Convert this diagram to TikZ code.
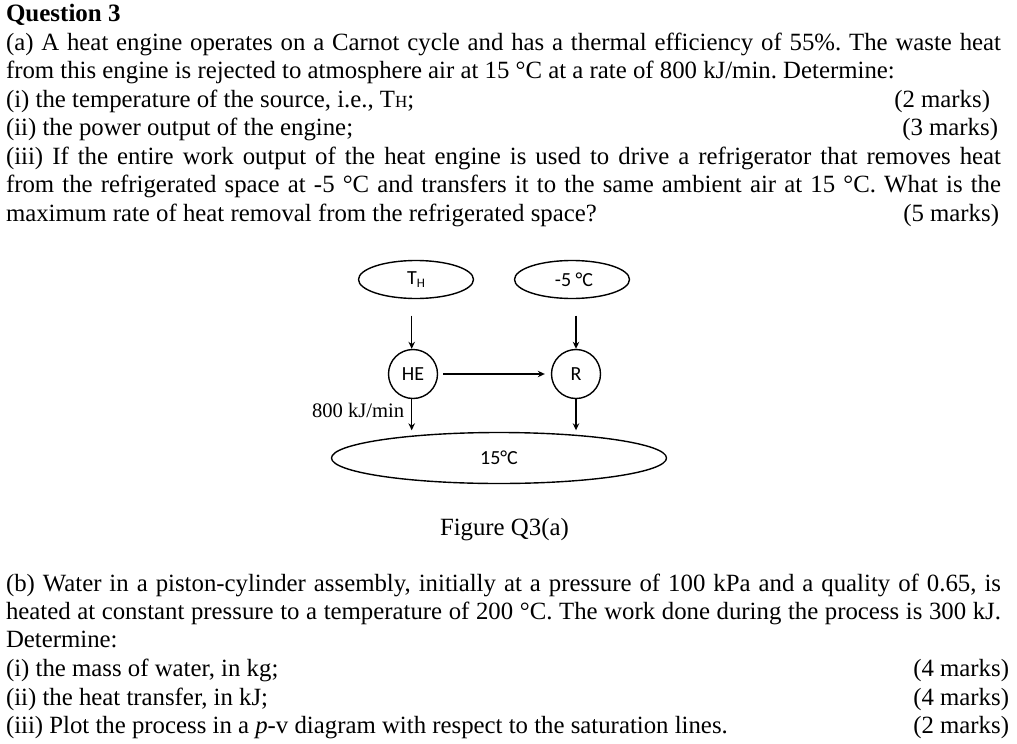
\documentclass[tikz,border=0pt]{standalone}
\usepackage{fontspec}
\setmainfont{Liberation Serif}
\newfontfamily\diag{Carlito}
\usetikzlibrary{arrows.meta,shapes.geometric}
\frenchspacing
\newcommand{\fl}[1]{\makebox[995pt][s]{#1}}
\tikzset{
  x=1pt,y=-1pt,
  tx/.style={inner sep=0pt,outer sep=0pt,anchor=base west,font=\fontsize{24.8}{28}\selectfont},
  mk/.style={inner sep=0pt,outer sep=0pt,anchor=base east,font=\fontsize{24.8}{28}\selectfont},
  oval/.style={draw,ellipse,line width=1.4pt,inner sep=0pt,minimum width=115pt,minimum height=38pt,font=\diag\fontsize{20}{22}\selectfont},
  disc/.style={draw,circle,line width=1.4pt,inner sep=0pt,minimum size=49pt,font=\diag\fontsize{20}{22}\selectfont},
  arr/.style={draw,line width=1.2pt,-{Stealth[length=7pt,width=6.5pt]}},
}
\begin{document}
\begin{tikzpicture}
\useasboundingbox (0,0) rectangle (1017,744);
\node[tx,font=\bfseries\fontsize{25}{28}\selectfont] (q) at (6,21) {Question 3};
\node[tx] (a1) at (6,50) {\fl{(a) A heat engine operates on a Carnot cycle and has a thermal efficiency of 55\%. The waste heat}};
\node[tx] (a2) at (6,78.5) {from this engine is rejected to atmosphere air at 15 °C at a rate of 800 kJ/min. Determine:};
\node[tx] (a3) at (6,107) {(i) the temperature of the source, i.e., T{\fontsize{17}{17}\selectfont H};};
\node[mk] (m1) at (990,107) {(2 marks)};
\node[tx] (a4) at (6,135.5) {(ii) the power output of the engine;};
\node[mk] (m2) at (998,135.5) {(3 marks)};
\node[tx] (a5) at (6,164) {\fl{(iii) If the entire work output of the heat engine is used to drive a refrigerator that removes heat}};
\node[tx] (a6) at (6,192.5) {\fl{from the refrigerated space at -5 °C and transfers it to the same ambient air at 15 °C. What is the}};
\node[tx] (a7) at (6,221) {maximum rate of heat removal from the refrigerated space?};
\node[mk] (m3) at (999,221) {(5 marks)};

\node[oval] (th) at (416,279.5) {T\raisebox{-3pt}{\fontsize{13}{13}\selectfont H}};
\node[oval] (cold) at (572,279.5) {\hspace{4pt}-5 °C};
\node[disc] (he) at (413,374) {HE};
\node[disc] (r) at (576,374) {R};
\node[draw,ellipse,line width=1.4pt,inner sep=0pt,minimum width=335pt,minimum height=51pt,font=\diag\fontsize{20}{22}\selectfont] (amb) at (499,458) {15°C};
\draw[arr,shorten <=16.5pt] ([xshift=-1.3pt]he.north|-th.south) -- ([xshift=-1.3pt]he.north);
\draw[arr,shorten <=16.5pt] (r.north|-cold.south) -- (r.north);
\draw[arr,shorten <=5pt,shorten >=6pt] (he.east) -- (r.west);
\draw[arr,shorten >=1.5pt] ([xshift=-1.3pt]he.south) -- ([xshift=-1.3pt]he.south|-amb.north);
\draw[arr,shorten >=1.5pt] (r.south) -- (r.south|-amb.north);
\node[tx,font=\fontsize{20.6}{22}\selectfont] (hl) at (312,417.5) {800 kJ/min};
\node[tx] (fig) at (440,535) {Figure Q3(a)};

\node[tx] (b1) at (6,591) {\fl{(b) Water in a piston-cylinder assembly, initially at a pressure of 100 kPa and a quality of 0.65, is}};
\node[tx] (b2) at (6,619) {\fl{heated at constant pressure to a temperature of 200 °C. The work done during the process is 300 kJ.}};
\node[tx] (b3) at (6,647.5) {Determine:};
\node[tx] (b4) at (6,676.5) {(i) the mass of water, in kg;};
\node[mk] (m4) at (1009,676.5) {(4 marks)};
\node[tx] (b5) at (6,705) {(ii) the heat transfer, in kJ;};
\node[mk] (m5) at (1009,705) {(4 marks)};
\node[tx] (b6) at (6,733.5) {(iii) Plot the process in a \emph{p}-v diagram with respect to the saturation lines.};
\node[mk] (m6) at (1009,733.5) {(2 marks)};
\end{tikzpicture}
\end{document}
